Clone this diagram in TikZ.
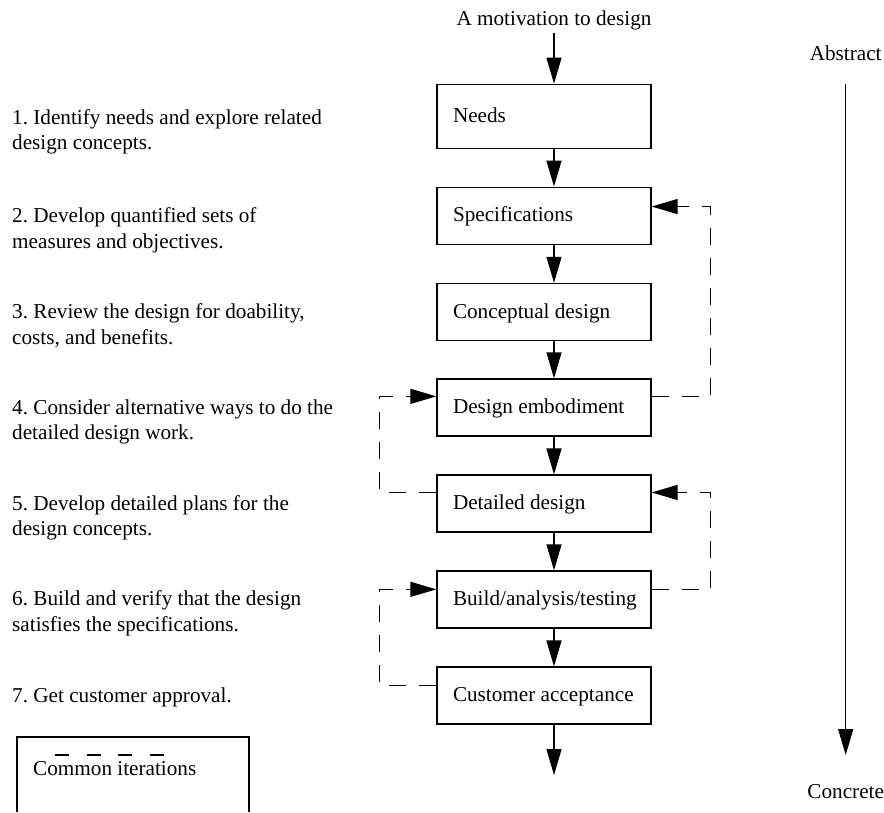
\documentclass[tikz,border=0pt]{standalone}
\usepackage{fontspec}
\setmainfont{Liberation Serif}
\usetikzlibrary{arrows.meta,calc}
\frenchspacing
\begin{document}
\begin{tikzpicture}[x=1pt,y=-1pt,
  every node/.style={font=\fontsize{21.2pt}{25.8pt}\selectfont, inner sep=0pt},
  stage/.style={draw, line width=1.3pt, minimum width=214pt, minimum height=57pt,
    text width=188pt, align=flush left, inner xsep=13pt, text height=15.5pt, text depth=3.5pt},
  item/.style={anchor=base west, align=left},
  flow/.style={line width=1.3pt, -{Triangle[length=26pt,width=15pt]}},
  iterloop/.style={flow, dash pattern=on 17pt off 13pt}]
\useasboundingbox (0,0) rectangle (884,812);

% column of the vertical flow arrows
\coordinate (col) at (554,0);

% design stages
\node[anchor=base] (motive) at (554,25) {A motivation to design};
\node[stage, minimum height=64pt] (needs) at (544,116.3) {\hspace*{3pt}Needs};
\node[stage] (specs)    at (544,215.7) {\hspace*{3pt}Specifications};
\node[stage] (concept)  at (544,312)   {\hspace*{3pt}Conceptual design};
\node[stage] (embod)    at (544,407.5) {\hspace*{3pt}Design embodiment};
\node[stage] (detail)   at (544,503.6) {\hspace*{3pt}Detailed design};
\node[stage] (build)    at (544,599.5) {\hspace*{3pt}Build/analysis/testing};
\node[stage] (customer) at (544,695.6) {\hspace*{3pt}Customer acceptance};
\coordinate (out) at (554,775);

% main flow
\draw[flow] ($(motive.south -| col)+(0,3.5)$) -- (needs.north -| col);
\draw[flow] (needs.south -| col) -- (specs.north -| col);
\draw[flow] (specs.south -| col) -- (concept.north -| col);
\draw[flow] (concept.south -| col) -- (embod.north -| col);
\draw[flow] (embod.south -| col) -- (detail.north -| col);
\draw[flow] (detail.south -| col) -- (build.north -| col);
\draw[flow] (build.south -| col) -- (customer.north -| col);
\draw[flow] (customer.south -| col) -- (out);

% common iterations
\draw[iterloop] ($(embod.north east)+(0,18)$) -| ($(specs.north east)+(59,20)$) -- ($(specs.north east)+(0,20)$);
\draw[iterloop] ($(detail.north west)+(0,18)$) -| ($(embod.north west)+(-57,18)$) -- ($(embod.north west)+(0,18)$);
\draw[iterloop] ($(build.north east)+(0,19)$) -| ($(detail.north east)+(59,18)$) -- ($(detail.north east)+(0,18)$);
\draw[iterloop] ($(customer.north west)+(0,19)$) -| ($(build.north west)+(-57,19)$) -- ($(build.north west)+(0,19)$);

% step descriptions (anchored at the baseline of the last line)
\node[item] (s1) at (12,149.8) {1. Identify needs and explore related\\design concepts.};
\node[item] (s2) at (12,248.1) {2. Develop quantified sets of\\measures and objectives.};
\node[item] (s3) at (12,344.1) {3. Review the design for doability,\\costs, and benefits.};
\node[item] (s4) at (12,439.8) {4. Consider alternative ways to do the\\detailed design work.};
\node[item] (s5) at (12,535.8) {5. Develop detailed plans for the\\design concepts.};
\node[item] (s6) at (12,631.5) {6. Build and verify that the design\\satisfies the specifications.};
\node[item] (s7) at (12,702.3) {7. Get customer approval.};

% abstraction axis
\node[anchor=base] (abstract) at (845.7,60)  {Abstract};
\node[anchor=base] (concrete) at (845.7,798) {Concrete};
\coordinate (axtop) at (845.7,84);
\coordinate (axbot) at (845.7,755);
\draw[flow] (axtop) -- (axbot);

% legend
\draw[line width=1.2pt] (17,812) |- (249,737) -- (249,812);
\coordinate (legA) at (55,755);
\coordinate (legB) at (163.5,755);
\draw[line width=1.3pt, dash pattern=on 14pt off 17.5pt] (legA) -- (legB);
\node[anchor=base west] (legend) at (33,775) {Common iterations};
\end{tikzpicture}
\end{document}
